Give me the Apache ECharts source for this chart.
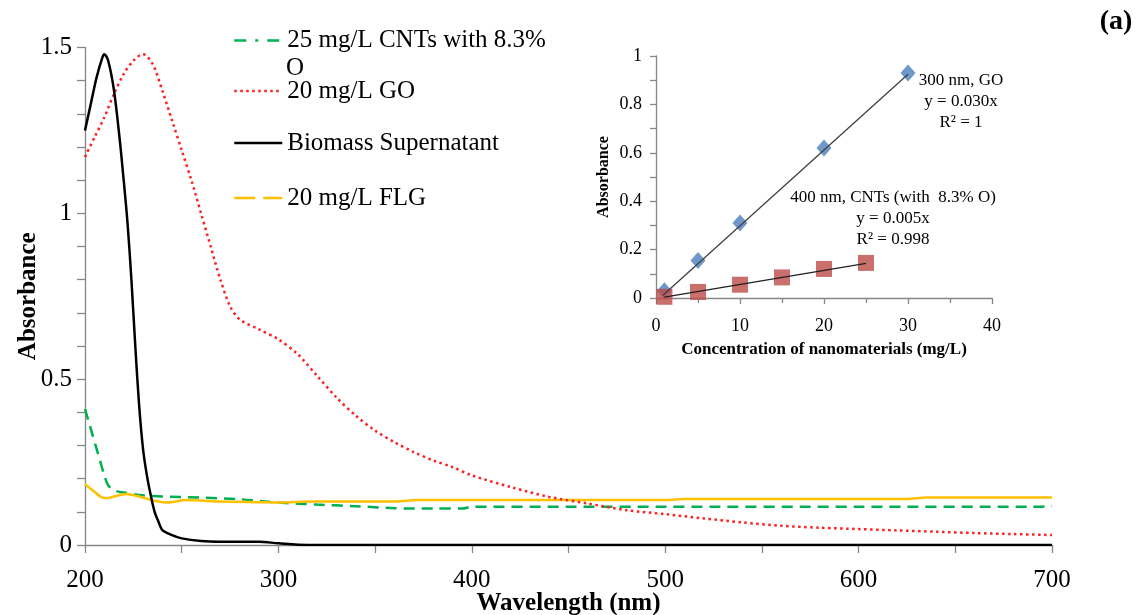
<!DOCTYPE html>
<html>
<head>
<meta charset="utf-8">
<script src="https://cdn.jsdelivr.net/npm/echarts@6/dist/echarts.min.js"></script>
<style>html,body{margin:0;padding:0;background:#fff}#c{width:1143px;height:615px}</style>
</head>
<body>
<div id="c"></div>
<script>
// ---------- Main chart data (wavelength nm, absorbance) ----------
const cntWavelength = [200,202,204,206,208,210,212,215,218,220,230,240,260,280,300,320,340,360,380,395,400,450,500,600,690,700];
const cntAbs        = [0.41,0.37,0.33,0.29,0.25,0.21,0.18,0.165,0.16,0.158,0.15,0.146,0.143,0.138,0.128,0.122,0.117,0.111,0.11,0.11,0.115,0.115,0.115,0.115,0.115,0.117];

const goWavelength = [200,205,210,215,220,225,230,235,240,245,250,255,260,265,270,275,280,290,300,310,320,330,340,350,360,370,380,390,400,420,440,460,480,500,520,540,560,580,600,620,640,660,680,700];
const goAbs        = [1.17,1.23,1.29,1.36,1.42,1.46,1.48,1.45,1.37,1.28,1.19,1.10,1.00,0.90,0.80,0.72,0.68,0.65,0.62,0.575,0.51,0.445,0.39,0.345,0.31,0.28,0.255,0.235,0.21,0.175,0.145,0.125,0.105,0.093,0.08,0.068,0.058,0.052,0.048,0.044,0.04,0.036,0.033,0.03];

const bioWavelength = [200,203,206,209,210,212,215,218,220,222,224,226,228,230,232,234,236,238,240,245,250,260,270,290,300,315,700];
const bioAbs        = [1.25,1.33,1.41,1.47,1.48,1.46,1.37,1.22,1.10,0.97,0.80,0.60,0.42,0.29,0.21,0.15,0.10,0.07,0.045,0.03,0.02,0.012,0.01,0.01,0.005,0,0];

const flgWavelength = [200,205,208,211,215,221,227,233,238,242,247,252,260,270,290,300,318,360,372,500,510,625,635,700];
const flgAbs        = [0.183,0.16,0.146,0.141,0.146,0.154,0.148,0.138,0.131,0.128,0.131,0.136,0.134,0.131,0.129,0.128,0.131,0.131,0.136,0.136,0.139,0.139,0.143,0.143];

const seriesNames = ['25 mg/L CNTs with 8.3% O','20 mg/L GO','Biomass Supernatant','20 mg/L FLG'];
const mainYTicks = ['0','0.5','1','1.5'];
const mainXTicks = ['200','300','400','500','600','700'];

// ---------- Inset data (concentration mg/L, absorbance) ----------
const goConc  = [1,5,10,20,30];
const goInset = [0.03,0.155,0.31,0.62,0.93];
const cntConc  = [1,5,10,15,20,25];
const cntInset = [0.005,0.025,0.055,0.085,0.12,0.145];
const goTrendX = [0.8,30];
const goTrendY = [0.01,0.925];
const cntTrendX = [1,25];
const cntTrendY = [0.004,0.143];

const zip = (a,b) => a.map((v,i)=>[v,b[i]]);
const FONT = 'Liberation Serif, Times New Roman, serif';
const AXIS = '#868686';
const LFS = 25;

const chart = echarts.init(document.getElementById('c'), null, {renderer:'canvas'});

function legendAt(name, top, lineStyle){
  return {
    data:[name], left:233, top:top, padding:0, orient:'vertical',
    itemWidth:48, itemHeight:14, itemGap:0,
    lineStyle: lineStyle,
    itemStyle:{opacity:0},
    selectedMode:false,
    textStyle:{fontFamily:FONT,fontSize:LFS,color:'#000',lineHeight:LFS},
    formatter: n => n === seriesNames[0] ? '25 mg/L CNTs with 8.3%' : n
  };
}

const option = {
  animation:false,
  backgroundColor:'#fff',
  textStyle:{fontFamily:FONT},
  legend:[
    legendAt(seriesNames[0], 28, {type:[12,9,3,9], width:2.5}),
    legendAt(seriesNames[1], 78.5, {type:[2.5,3.5], width:2.5}),
    legendAt(seriesNames[2], 130.5, {type:'solid', width:2.5}),
    legendAt(seriesNames[3], 185.5, {type:[21,8], width:2.5})
  ],
  grid:[
    {left:85, right:91, top:47.5, bottom:70, containLabel:false, outerBoundsMode:'none'},
    {left:656, right:151, top:56, bottom:317, containLabel:false, outerBoundsMode:'none'}
  ],
  xAxis:[
    {gridIndex:0, type:'value', min:200, max:700, interval:50,
     name:'Wavelength (nm)', nameLocation:'middle', nameGap:46, nameMoveOverlap:false,
     nameTextStyle:{fontFamily:FONT,fontSize:LFS,fontWeight:'bold',color:'#000'},
     axisLine:{lineStyle:{color:AXIS,width:1.3}},
     axisTick:{length:8,lineStyle:{color:AXIS,width:1.3}},
     splitLine:{show:false},
     axisLabel:{fontFamily:FONT,fontSize:LFS,color:'#000',margin:23,
       formatter:v => mainXTicks.includes(String(Math.round(v))) && Math.abs(v-Math.round(v))<1e-6 ? String(Math.round(v)) : ''}},
    {gridIndex:1, type:'value', min:0, max:40, interval:10,
     name:'Concentration of nanomaterials (mg/L)', nameLocation:'middle', nameGap:43, nameMoveOverlap:false,
     nameTextStyle:{fontFamily:FONT,fontSize:17,fontWeight:'bold',color:'#000'},
     axisLine:{lineStyle:{color:AXIS,width:1.3}},
     axisTick:{length:6,lineStyle:{color:AXIS,width:1.3}},
     minorTick:{show:true,splitNumber:2,length:5,lineStyle:{color:AXIS,width:1.3}},
     splitLine:{show:false}, minorSplitLine:{show:false},
     axisLabel:{fontFamily:FONT,fontSize:18,color:'#000',margin:19}}
  ],
  yAxis:[
    {gridIndex:0, type:'value', min:0, max:1.5, interval:0.5,
     name:'Absorbance', nameLocation:'middle', nameGap:44, nameRotate:90, nameMoveOverlap:false,
     nameTextStyle:{fontFamily:FONT,fontSize:LFS,fontWeight:'bold',color:'#000'},
     axisLine:{show:true,lineStyle:{color:AXIS,width:1.3}},
     axisTick:{show:true,length:8,lineStyle:{color:AXIS,width:1.3}},
     minorTick:{show:true,splitNumber:5,length:8,lineStyle:{color:AXIS,width:1.3}},
     splitLine:{show:false}, minorSplitLine:{show:false},
     axisLabel:{fontFamily:FONT,fontSize:LFS,color:'#000',margin:13,
       formatter:v => { const s = String(+v.toFixed(1)); return mainYTicks.includes(s) ? s : ''; }}},
    {gridIndex:1, type:'value', min:0, max:1, interval:0.2,
     name:'Absorbance', nameLocation:'middle', nameGap:44, nameRotate:90, nameMoveOverlap:false,
     nameTextStyle:{fontFamily:FONT,fontSize:16,fontWeight:'bold',color:'#000'},
     axisLine:{show:true,lineStyle:{color:AXIS,width:1.3}},
     axisTick:{show:true,length:6,lineStyle:{color:AXIS,width:1.3}},
     minorTick:{show:true,splitNumber:2,length:6,lineStyle:{color:AXIS,width:1.3}},
     splitLine:{show:false}, minorSplitLine:{show:false},
     axisLabel:{fontFamily:FONT,fontSize:18,color:'#000',margin:14,
       formatter:v => String(+v.toFixed(1))}}
  ],
  series:[
    {name:seriesNames[0], type:'line', xAxisIndex:0, yAxisIndex:0, showSymbol:false, symbol:'none', smooth:0.3,
     data:zip(cntWavelength,cntAbs), lineStyle:{color:'#00B050',width:2.5,type:[11,7]}, itemStyle:{color:'#00B050'}, z:3},
    {name:seriesNames[1], type:'line', xAxisIndex:0, yAxisIndex:0, showSymbol:false, symbol:'none', smooth:0.3,
     data:zip(goWavelength,goAbs), lineStyle:{color:'#FF1F1F',width:2.5,type:[2.5,3.5]}, itemStyle:{color:'#FF1F1F'}, z:4},
    {name:seriesNames[2], type:'line', xAxisIndex:0, yAxisIndex:0, showSymbol:false, symbol:'none', smooth:0.3,
     data:zip(bioWavelength,bioAbs), lineStyle:{color:'#000',width:2.5}, itemStyle:{color:'#000'}, z:5},
    {name:seriesNames[3], type:'line', xAxisIndex:0, yAxisIndex:0, showSymbol:false, symbol:'none', smooth:0.3,
     data:zip(flgWavelength,flgAbs), lineStyle:{color:'#FFC000',width:2.5}, itemStyle:{color:'#FFC000'}, z:3},
    // inset trendlines
    {name:'GO trend', type:'line', xAxisIndex:1, yAxisIndex:1, symbol:'none',
     data:zip(goTrendX,goTrendY), lineStyle:{color:'#404040',width:1.3}, z:5},
    {name:'CNT trend', type:'line', xAxisIndex:1, yAxisIndex:1, symbol:'none',
     data:zip(cntTrendX,cntTrendY), lineStyle:{color:'#202020',width:1.3}, z:5},
    // inset markers
    {name:'300 nm, GO', type:'scatter', xAxisIndex:1, yAxisIndex:1, symbol:'diamond', symbolSize:[15,17],
     data:zip(goConc,goInset), itemStyle:{color:'#4A7EBB'}, z:4},
    {name:'400 nm, CNTs', type:'scatter', xAxisIndex:1, yAxisIndex:1, symbol:'rect', symbolSize:16,
     data:zip(cntConc,cntInset), itemStyle:{color:'#BE4B48'}, z:4}
  ],
  graphic:[
    {type:'text', x:286, y:68, style:{text:'O', font:LFS+'px '+FONT, fill:'#000', verticalAlign:'middle'}},
    {type:'text', x:1116, y:22, style:{text:'(a)', font:'bold 28px '+FONT, fill:'#000', align:'center', verticalAlign:'middle'}},
    {type:'text', x:961, y:70, style:{text:'300 nm, GO\ny = 0.030x\nR² = 1', font:'17px '+FONT, fill:'#000', align:'center', verticalAlign:'top', lineHeight:21}},
    {type:'text', x:893, y:187, style:{text:'400 nm, CNTs (with  8.3% O)\ny = 0.005x\nR² = 0.998', font:'17px '+FONT, fill:'#000', align:'center', verticalAlign:'top', lineHeight:21}}
  ]
};
chart.setOption(option);
</script>
</body>
</html>
